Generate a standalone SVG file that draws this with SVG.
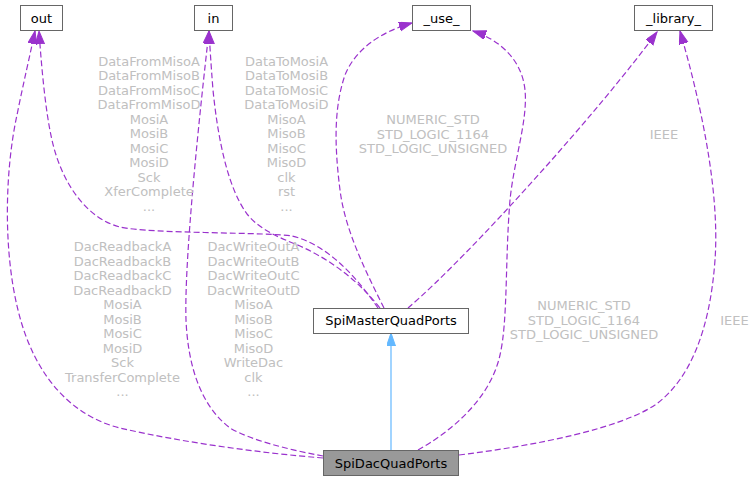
<svg xmlns="http://www.w3.org/2000/svg" width="755" height="481" viewBox="0 0 755 481">
<style>
.node rect{fill:#ffffff;stroke:#666666;stroke-width:1}
.node text{font-family:"DejaVu Sans",sans-serif;font-size:13px;fill:#000000;text-anchor:middle}
.dep{fill:none;stroke:#9a32cd;stroke-width:1.2;stroke-dasharray:6,3;marker-end:url(#ap)}
.inh{fill:none;stroke:#63b8ff;stroke-width:1.2;marker-end:url(#ab)}
.lbl{font-family:"DejaVu Sans",sans-serif;font-size:13px;fill:#c0c0c0;text-anchor:middle}
</style>
<defs>
<marker id="ap" markerUnits="userSpaceOnUse" markerWidth="14" markerHeight="10" refX="13" refY="4.5" orient="auto">
<path d="M0,0 L13,4.5 L0,9 z" fill="#9a32cd" stroke="#9a32cd" stroke-width="1"/>
</marker>
<marker id="ab" markerUnits="userSpaceOnUse" markerWidth="14" markerHeight="10" refX="13" refY="4.5" orient="auto">
<path d="M0,0 L13,4.5 L0,9 z" fill="#63b8ff" stroke="#63b8ff" stroke-width="1"/>
</marker>
</defs>
<rect width="755" height="481" fill="#ffffff"/>
<g id="edges">
<path class="dep" d="M378,308 C360,282 330,245 292,236 C270,232 150,234 120,227 C88,219 62,185 52,140 C45,110 41,60 39,31"/>
<path class="dep" d="M380,308 C360,283 335,262 300,246 C278,237 260,230 247,214 C228,188 218,140 213,90 C211,65 210,48 209,31"/>
<path class="dep" d="M384,308 C365,270 345,230 340,190 C335,150 333,110 345,75 C355,50 380,32 412,23"/>
<path class="dep" d="M408,308 C470,255 600,110 657,32"/>
<path class="dep" d="M323,458 C260,453 180,442 120,428 C75,417 35,380 18,310 C3,250 5,170 17,115 C23,85 30,55 35,31"/>
<path class="dep" d="M323,456 C290,450 250,440 230,428 C200,405 188,365 186,320 C184,260 200,110 209,31"/>
<path class="dep" d="M418,450 C450,432 490,400 500,355 C508,320 505,260 510,200 C514,160 528,120 525,90 C522,60 500,40 473,31"/>
<path class="dep" d="M459,455 C540,445 620,428 655,405 C690,380 710,330 715,260 C720,190 700,100 680,31"/>
<path class="inh" d="M391,450 L391,333"/>
</g>
<g id="labels">
<text class="lbl" x="149"><tspan x="149" y="65.5">DataFromMisoA</tspan><tspan x="149" y="80">DataFromMisoB</tspan><tspan x="149" y="94.5">DataFromMisoC</tspan><tspan x="149" y="109">DataFromMisoD</tspan><tspan x="149" y="123.5">MosiA</tspan><tspan x="149" y="138">MosiB</tspan><tspan x="149" y="152.5">MosiC</tspan><tspan x="149" y="167">MosiD</tspan><tspan x="149" y="181.5">Sck</tspan><tspan x="149" y="196">XferComplete</tspan><tspan x="149" y="210.5">...</tspan></text>
<text class="lbl" x="286.5"><tspan x="286.5" y="65.5">DataToMosiA</tspan><tspan x="286.5" y="80">DataToMosiB</tspan><tspan x="286.5" y="94.5">DataToMosiC</tspan><tspan x="286.5" y="109">DataToMosiD</tspan><tspan x="286.5" y="123.5">MisoA</tspan><tspan x="286.5" y="138">MisoB</tspan><tspan x="286.5" y="152.5">MisoC</tspan><tspan x="286.5" y="167">MisoD</tspan><tspan x="286.5" y="181.5">clk</tspan><tspan x="286.5" y="196">rst</tspan><tspan x="286.5" y="210.5">...</tspan></text>
<text class="lbl" x="433"><tspan x="433" y="124.3">NUMERIC_STD</tspan><tspan x="433" y="138.8">STD_LOGIC_1164</tspan><tspan x="433" y="153.3">STD_LOGIC_UNSIGNED</tspan></text>
<text class="lbl" x="664" y="139">IEEE</text>
<text class="lbl" x="122.5"><tspan x="122.5" y="251">DacReadbackA</tspan><tspan x="122.5" y="265.5">DacReadbackB</tspan><tspan x="122.5" y="280">DacReadbackC</tspan><tspan x="122.5" y="294.5">DacReadbackD</tspan><tspan x="122.5" y="309">MosiA</tspan><tspan x="122.5" y="323.5">MosiB</tspan><tspan x="122.5" y="338">MosiC</tspan><tspan x="122.5" y="352.5">MosiD</tspan><tspan x="122.5" y="367">Sck</tspan><tspan x="122.5" y="381.5">TransferComplete</tspan><tspan x="122.5" y="396">...</tspan></text>
<text class="lbl" x="253.5"><tspan x="253.5" y="251">DacWriteOutA</tspan><tspan x="253.5" y="265.5">DacWriteOutB</tspan><tspan x="253.5" y="280">DacWriteOutC</tspan><tspan x="253.5" y="294.5">DacWriteOutD</tspan><tspan x="253.5" y="309">MisoA</tspan><tspan x="253.5" y="323.5">MisoB</tspan><tspan x="253.5" y="338">MisoC</tspan><tspan x="253.5" y="352.5">MisoD</tspan><tspan x="253.5" y="367">WriteDac</tspan><tspan x="253.5" y="381.5">clk</tspan><tspan x="253.5" y="396">...</tspan></text>
<text class="lbl" x="584"><tspan x="584" y="310">NUMERIC_STD</tspan><tspan x="584" y="324.5">STD_LOGIC_1164</tspan><tspan x="584" y="339">STD_LOGIC_UNSIGNED</tspan></text>
<text class="lbl" x="734.5" y="325">IEEE</text>
</g>
<g id="node-out" class="node"><rect x="20.5" y="5.5" width="42" height="25"/><text x="41.5" y="22.5">out</text></g>
<g id="node-in" class="node"><rect x="194.5" y="5.5" width="38" height="25"/><text x="213.5" y="22.5">in</text></g>
<g id="node-use" class="node"><rect x="412.5" y="5.5" width="58" height="25"/><text x="441.5" y="22.5">_use_</text></g>
<g id="node-library" class="node"><rect x="634.5" y="5.5" width="78" height="25"/><text x="673.5" y="22.5">_library_</text></g>
<g id="node-SpiMasterQuadPorts" class="node"><rect x="313.5" y="308.5" width="155" height="25"/><text x="391" y="325">SpiMasterQuadPorts</text></g>
<g id="node-SpiDacQuadPorts" class="node"><rect x="323.5" y="450.5" width="135" height="25" style="fill:#999999"/><text x="391" y="467.5">SpiDacQuadPorts</text></g>
</svg>
